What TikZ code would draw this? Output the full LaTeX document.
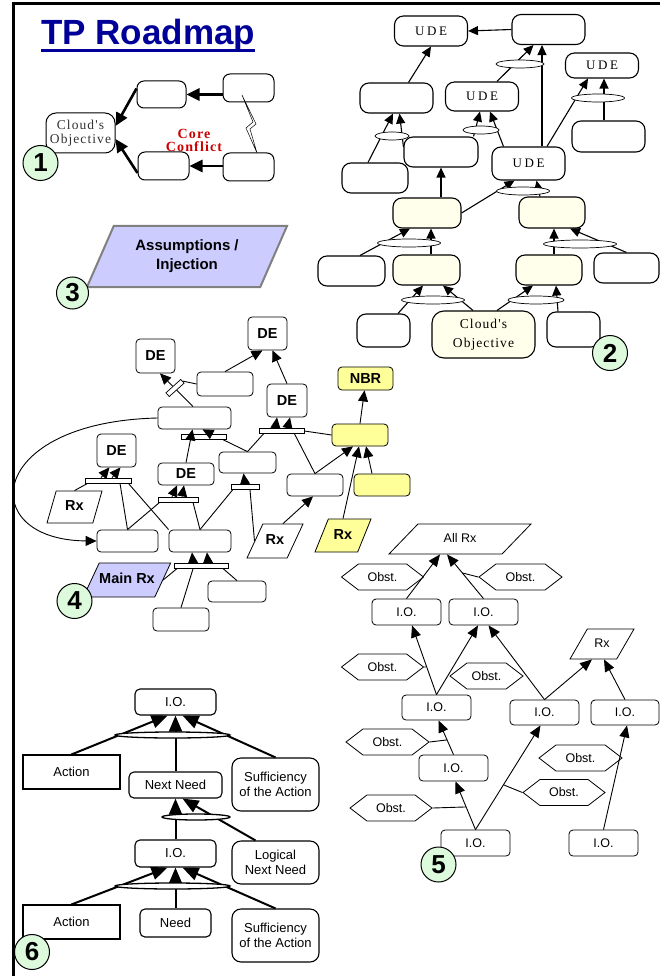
\documentclass[tikz,border=0pt]{standalone}
\usepackage{fontspec}
\setmainfont{Liberation Sans}
\newfontfamily\serifsp{Liberation Serif}[LetterSpace=8]
\newfontfamily\udefont{Liberation Serif}[LetterSpace=20]
\usetikzlibrary{arrows.meta, shapes.geometric, shapes.symbols}
\definecolor{navytitle}{HTML}{000099}
\definecolor{numgreen}{HTML}{DDFADD}
\definecolor{cream}{HTML}{FFFFEB}
\definecolor{rxyellow}{HTML}{FFFF99}
\definecolor{lavender}{HTML}{CCCCFF}
\definecolor{conflict}{HTML}{CC0000}
\newcommand{\fsz}[2]{\fontsize{#1}{#2}\selectfont}

\begin{document}
\begin{tikzpicture}[x=1pt, y=-1pt,
  numcirc/.style={circle, draw, line width=1pt, fill=numgreen, minimum size=35pt, inner sep=0pt, font=\bfseries\fsz{26}{26}},
  cbox/.style={draw, rounded corners=7pt, fill=white, line width=1pt, minimum width=51pt, minimum height=28pt, inner sep=0pt, align=center},
  arrA/.style={line width=2.6pt, -{Triangle[length=13pt, width=12pt]}},
  ubox/.style={draw, rounded corners=9pt, fill=white, line width=1.1pt, minimum width=73pt, minimum height=30pt, inner sep=0pt, align=center, font=\udefont\fsz{13}{19}},
  andell/.style={ellipse, draw, fill=white, line width=0.7pt, minimum height=8pt, inner sep=0pt},
  arrB/.style={line width=1.1pt, -{Triangle[length=10pt, width=9pt]}},
  dbox/.style={draw, rounded corners=4pt, fill=white, line width=0.8pt, minimum width=56pt, minimum height=22pt, inner sep=0pt, font=\bfseries\fsz{14.5}{16}},
  para/.style={trapezium, trapezium stretches body, draw, fill=white, line width=0.8pt, inner xsep=0pt, font=\bfseries\fsz{14.5}{16}},
  onel/.style={text height=10pt, text depth=3pt, inner ysep=#1},
  andbar/.style={draw, fill=white, line width=0.7pt, minimum height=5pt, inner sep=0pt},
  lnD/.style={line width=0.9pt},
  arrD/.style={line width=0.9pt, -{Triangle[length=11pt, width=10pt]}},
  iobox/.style={draw, rounded corners=4pt, fill=white, line width=0.8pt, minimum width=69pt, minimum height=26pt, inner sep=0pt, font=\fsz{12.5}{14}},
  obst/.style={signal, signal to=east and west, signal pointer angle=75, draw, fill=white, line width=0.8pt, minimum width=82pt, minimum height=26pt, inner sep=0pt, font=\fsz{12.5}{14}},
  lnE/.style={line width=0.9pt},
  arrE/.style={line width=0.9pt, -{Triangle[length=12pt, width=10pt]}},
  nbox/.style={draw, rounded corners=5pt, fill=white, line width=1.1pt, inner sep=0pt, align=center, font=\fsz{13}{15}},
  andflat/.style={ellipse, draw, fill=white, line width=1.3pt, minimum height=6pt, inner sep=0pt},
  arrF/.style={line width=2pt, -{Triangle[length=16pt, width=13pt]}}]

\useasboundingbox (0,0) rectangle (660,976); % Khung trang

% Khung và tiêu đề
\draw[line width=3.5pt] (13.5,976) -- (13.5,3.5) -- (660,3.5);
\node[anchor=base west, text=navytitle, font=\bfseries\fsz{35}{40}, inner sep=0pt] (title) at (41,45) {TP Roadmap};
\draw[navytitle, line width=3pt] ([yshift=-5.5pt]title.base west) -- ([yshift=-5.5pt]title.base east);

% (1) Đám mây
\node[cbox, minimum width=69pt, minimum height=40pt, rounded corners=10pt, font=\serifsp\fsz{13.5}{14}, text=black!80] (obj1) at (80.5,133) {Cloud's\\Objective};
\node[cbox, minimum width=49pt, minimum height=27pt] (c1b) at (161.5,94.5) {};
\node[cbox] (c1c) at (163.5,166) {};
\node[cbox] (c1d) at (248.5,88) {};
\node[cbox] (c1e) at (248.5,167) {};
\node[text=conflict, font=\serifsp\bfseries\fsz{14}{13}, align=center] (core) at (194,140) {Core\\Conflict};
\draw[line width=0.5pt, fill=white] (242,95) -- (253,122) -- (246,128) -- (257,153) -- (250,129) -- (256,124) -- cycle; % Tia chớp
\draw[arrA] (c1d.west |- c1b.east) -- (c1b.east);
\draw[arrA] (c1e.west |- c1c.east) -- (c1c.east);
\draw[arrA] ([yshift=6pt]c1b.west) -- ([yshift=7pt]obj1.east);
\draw[arrA] ([yshift=-7pt]c1c.west) -- ([yshift=-6pt]obj1.east);
\node[numcirc] (n1) at (40.5,163) {1};

% (2) Cây hiện trạng
\node[ubox] (ude1) at (431,31) {UDE};
\node[ubox] (s2f) at (548.5,29.5) {};
\node[ubox, minimum height=25pt] (ude2) at (602,65.5) {UDE};
\node[ubox] (s2g) at (396.5,98) {};
\node[ubox, minimum height=29pt] (ude3) at (482,96.5) {UDE};
\node[ubox, minimum width=74pt] (s2h) at (441,152) {};
\node[ubox, minimum height=31pt] (s2i) at (608.5,136.5) {};
\node[ubox, minimum height=33pt] (ude4) at (528.5,163.5) {UDE};
\node[ubox, minimum width=66pt] (s2j) at (375,178) {};
\node[ubox, fill=cream, minimum width=68pt] (s2l1) at (427,213) {};
\node[ubox, fill=cream, minimum width=66pt, minimum height=31pt] (s2l2) at (552,212.5) {};
\node[ubox, fill=cream, minimum width=67pt] (s2m1) at (426.5,270) {};
\node[ubox, fill=cream, minimum width=66pt] (s2m2) at (549,270) {};
\node[ubox, minimum width=67pt] (s2n1) at (351.5,271) {};
\node[ubox, minimum width=65pt] (s2n2) at (626.5,268) {};
\node[ubox, fill=cream, minimum width=103pt, minimum height=47pt, rounded corners=12pt, font=\serifsp\fsz{13.5}{19}] (obj2) at (483.5,334.5) {Cloud's\\Objective};
\node[ubox, minimum width=53pt, minimum height=33pt] (s2p1) at (383.5,330.5) {};
\node[ubox, minimum width=53pt, minimum height=35pt] (s2p2) at (573.5,329.5) {};
\node[numcirc] (n2) at (610,353) {2};
\draw[arrB] (s2f.west) -- (ude1.east);
\draw[arrB] ([xshift=12pt]s2g.north) -- (ude1.south);
\draw[arrB] ([xshift=15pt]ude3.north) -- ([xshift=-15pt]s2f.south);
\draw[arrB] ([xshift=13.5pt]ude4.north) -- ([xshift=-6.5pt]s2f.south);
\draw[arrB] ([xshift=-7pt]s2j.north) -- ([xshift=-3.5pt]s2g.south);
\draw[arrB] ([yshift=5pt]s2h.west) -- ([xshift=3pt]s2g.south);
\draw[arrB] (s2h.south |- s2l1.north) -- (s2h.south);
\draw[arrB] ([xshift=-5pt]s2h.north east) -- ([xshift=-2pt]ude3.south);
\draw[arrB] ([xshift=-25pt]ude4.north) -- ([xshift=8pt]ude3.south);
\draw[arrB] ([xshift=18.5pt]ude4.north) -- ([xshift=-14pt]ude2.south);
\draw[arrB] ([xshift=-4.5pt]s2i.north) -- ([xshift=2pt]ude2.south);
\draw[arrB] (s2l1.east) -- ([xshift=-14pt]ude4.south);
\draw[arrB] ([xshift=-12pt]s2l2.north) -- ([xshift=8pt]ude4.south);
\draw[arrB] ([xshift=8.5pt]s2n1.north) -- ([xshift=-17pt]s2l1.south);
\draw[arrB] ([xshift=4.5pt]s2m1.north) -- ([xshift=4pt]s2l1.south);
\draw[arrB] ([xshift=5pt]s2m2.north) -- ([xshift=2pt]s2l2.south);
\draw[arrB] (s2n2.north) -- ([xshift=18pt]s2l2.south);
\draw[arrB] ([xshift=14.5pt]s2p1.north) -- ([xshift=-3.5pt]s2m1.south);
\draw[arrB] ([xshift=-10.5pt]obj2.north) -- ([xshift=16.5pt]s2m1.south);
\draw[arrB] ([xshift=13.5pt]obj2.north) -- ([xshift=-16pt]s2m2.south);
\draw[arrB] ([xshift=-15.5pt]s2p2.north) -- ([xshift=7pt]s2m2.south);
\node[andell, minimum width=48pt] (and1) at (520,64) {};
\node[andell, minimum width=34pt] (and2) at (392,136) {};
\node[andell, minimum width=36pt] (and3) at (481,130) {};
\node[andell, minimum width=53pt] (and4) at (598,98) {};
\node[andell, minimum width=53pt] (and5) at (523,191) {};
\node[andell, minimum width=63pt] (and6) at (409,243) {};
\node[andell, minimum width=73pt] (and7) at (580,244) {};
\node[andell, minimum width=63pt] (and8) at (433,300) {};
\node[andell, minimum width=56pt] (and9) at (536,300) {};

% (3) Giả định
\node[para, trapezium left angle=56, trapezium right angle=124, minimum width=200pt, minimum height=61pt, fill=lavender, draw=gray, line width=2pt, font=\bfseries\fsz{15}{19}, align=center] (asm) at (187,256.5) {Assumptions /\\Injection};
\node[numcirc, minimum size=32pt] (n3) at (72.5,293) {3};

% (4) Cây thực tại tương lai
\node[dbox, minimum width=39pt, minimum height=33pt] (dea) at (267.5,333.5) {DE};
\node[dbox, minimum width=39pt, minimum height=34pt] (deb) at (155.5,356) {DE};
\node[dbox, minimum height=24pt] (s4q) at (225,384) {};
\node[dbox, minimum width=40pt, minimum height=33pt] (dec) at (287,400.5) {DE};
\node[dbox, fill=rxyellow, minimum width=55pt, minimum height=23pt] (nbr) at (365.5,378.5) {NBR};
\node[dbox, minimum width=73pt] (s4r) at (194.5,418) {};
\node[dbox, fill=rxyellow] (s4s) at (360,435) {};
\node[dbox, minimum width=39pt, minimum height=33pt] (ded) at (116.5,450.5) {DE};
\node[dbox] (dee) at (186,474) {DE};
\node[dbox, minimum width=57pt, minimum height=21pt] (s4t) at (247.5,462.5) {};
\node[dbox] (s4u) at (315,485) {};
\node[dbox, fill=rxyellow] (s4v) at (382,485) {};
\node[para, onel=9.5pt, trapezium left angle=74, trapezium right angle=106, minimum width=55pt] (rxa) at (74.5,507) {Rx};
\node[dbox, minimum width=61pt] (s4w) at (127.5,541) {};
\node[dbox, minimum width=62pt] (s4x) at (200,541) {};
\node[para, onel=10.5pt, trapezium left angle=65, trapezium right angle=115, minimum width=56pt] (rxb) at (275,541) {Rx};
\node[para, onel=10pt, fill=rxyellow, trapezium left angle=68, trapezium right angle=112, minimum width=56pt] (rxc) at (343,535.5) {Rx};
\node[para, onel=10.5pt, fill=lavender, trapezium left angle=65, trapezium right angle=115, minimum width=84pt] (mainrx) at (127,580) {Main Rx};
\node[numcirc] (n4) at (74.5,601) {4};
\node[dbox, minimum width=58pt, minimum height=21pt] (s4y) at (237,591.5) {};
\node[dbox, minimum height=23pt] (s4z) at (181,619.5) {};
\node[andbar, minimum width=46pt] (bar1) at (108,480.5) {};
\node[andbar, minimum width=40pt] (bar2) at (178,499.5) {};
\node[andbar, minimum width=45pt] (bar3) at (203.5,437) {};
\node[andbar, minimum width=45pt] (bar4) at (281.5,431) {};
\node[andbar, minimum width=28pt] (bar5) at (245,487) {};
\node[andbar, minimum width=54pt] (bar6) at (201,566) {};
\draw[arrD] (s4q.north) -- ([xshift=-5pt]dea.south);
\draw[arrD] (dec.north) -- ([xshift=5pt]dea.south);
\draw[arrD] ([xshift=-1.5pt]s4r.north) -- ([xshift=4.5pt]deb.south);
\node[andbar, minimum width=20pt, rotate=42] (bar7) at (175,388) {};
\draw[lnD] (s4q.west) -- (bar7.east);
\draw[arrD] (s4r.west) .. controls (-15,422) and (-25,540) .. (s4w.west); % Đường cong vòng
\draw[lnD] (rxa.north) -- ([xshift=3pt]bar1.south west);
\draw[lnD] (s4w.north) -- ([xshift=12pt]bar1.south);
\draw[lnD] (s4x.north west) -- ([xshift=-3pt]bar1.south east);
\draw[arrD] ([xshift=-7pt]bar1.north) -- ([xshift=-7pt]ded.south);
\draw[arrD] ([xshift=4pt]bar1.north) -- ([xshift=4pt]ded.south);
\draw[lnD] (s4w.north) -- ([xshift=2pt]bar2.south west);
\draw[lnD] (s4x.north) -- ([xshift=15pt]bar2.south);
\draw[arrD] ([xshift=-6pt]bar2.north) -- ([xshift=-9pt]dee.south);
\draw[arrD] ([xshift=4pt]bar2.north) -- ([xshift=-2pt]dee.south);
\draw[arrD] (dee.north) -- ([xshift=-2pt]s4r.south);
\draw[lnD] (s4t.north) -- ([xshift=-3pt]bar3.south east);
\draw[arrD] ([xshift=8pt]bar3.north) -- ([xshift=8pt]s4r.south);
\draw[lnD] (s4x.north) -- ([xshift=2pt]bar5.south west);
\draw[lnD] (rxb.west) -- ([xshift=5pt]bar5.south);
\draw[arrD] (bar5.north) -- ([xshift=-4pt]s4t.south);
\draw[lnD] (s4t.north) -- ([xshift=-18pt]bar4.south);
\draw[lnD] (s4u.north) -- ([xshift=13pt]bar4.south);
\draw[lnD] (s4s.west) -- (bar4.east);
\draw[arrD] ([xshift=-6pt]bar4.north) -- ([xshift=-10pt]dec.south);
\draw[arrD] ([xshift=6pt]bar4.north) -- ([xshift=3pt]dec.south);
\draw[arrD] (s4s.north) -- ([xshift=-1pt]nbr.south);
\draw[arrD] ([xshift=8pt]rxb.north) -- ([xshift=-2pt]s4u.south);
\draw[arrD] (s4u.north) -- ([xshift=-7pt]s4s.south);
\draw[arrD] ([xshift=-10pt]s4v.north) -- ([xshift=6pt]s4s.south);
\draw[arrD] (rxc.north) -- ([xshift=-1pt]s4s.south);
\draw[lnD] (mainrx.east) -- ([xshift=3pt]bar6.south west);
\draw[lnD] (s4z.north) -- ([xshift=-8pt]bar6.south);
\draw[lnD] (s4y.north) -- ([xshift=-5pt]bar6.south east);
\draw[arrD] ([xshift=-8pt]bar6.north) -- ([xshift=-8pt]s4x.south);
\draw[arrD] ([xshift=7pt]bar6.north) -- ([xshift=7pt]s4x.south);

% (5) Cây điều kiện tiên quyết
\node[para, onel=8.5pt, trapezium left angle=46, trapezium right angle=134, minimum width=142pt, font=\fsz{12.5}{14}] (allrx) at (460,539) {All Rx};
\node[obst] (obsta) at (382.5,577) {Obst.};
\node[obst, minimum width=83pt] (obstb) at (520.5,577) {Obst.};
\node[iobox] (io5a) at (406.5,612) {I.O.};
\node[iobox] (io5b) at (483.5,612) {I.O.};
\node[obst] (obstc) at (382.5,667) {Obst.};
\node[obst, minimum width=73pt] (obstd) at (486.5,676) {Obst.};
\node[para, onel=8.5pt, trapezium left angle=60, trapezium right angle=120, minimum width=64pt, font=\fsz{12.5}{14}] (rx5) at (602,644) {Rx};
\node[iobox, minimum height=25pt] (io5c) at (436.5,707.5) {I.O.};
\node[iobox, minimum height=25pt] (io5d) at (544.5,712.5) {I.O.};
\node[iobox, minimum width=68pt, minimum height=25pt] (io5e) at (625,712.5) {I.O.};
\node[obst, minimum width=83pt] (obste) at (387.5,742) {Obst.};
\node[iobox] (io5f) at (453.5,768) {I.O.};
\node[obst, minimum width=83pt] (obstf) at (580.5,758) {Obst.};
\node[obst] (obstg) at (564,792.5) {Obst.};
\node[obst] (obsth) at (391,808) {Obst.};
\node[iobox] (io5g) at (475.5,843) {I.O.};
\node[iobox] (io5h) at (603.5,843) {I.O.};
\draw[arrE] (io5a.north) -- ([xshift=-20pt]allrx.south);
\draw[arrE] (io5b.north) -- coordinate[pos=0.58] (kb) ([xshift=-13pt]allrx.south);
\draw[lnE] (obstb.west) -- (kb);
\draw[arrE] (io5c.north) -- coordinate[pos=0.4] (kc) ([xshift=5.5pt]io5a.south);
\draw[lnE] (obstc.east) -- (kc);
\draw[arrE] (io5c.north) -- ([xshift=-5.5pt]io5b.south);
\draw[arrE] (io5d.north) -- ([xshift=5pt]io5b.south);
\draw[arrE] (io5d.north) -- ([xshift=-10pt]rx5.south);
\draw[arrE] (io5e.north) -- ([xshift=2pt]rx5.south);
\draw[arrE] (io5f.north) -- coordinate[pos=0.43] (ke) ([xshift=2pt]io5c.south);
\draw[lnE] (obste.east) -- (ke);
\draw[arrE] (io5g.north) -- coordinate[pos=0.47] (kh) ([xshift=2pt]io5f.south);
\draw[lnE] (obsth.east) -- (kh);
\draw[arrE] (io5g.north) -- coordinate[pos=0.43] (kg) ([xshift=-4pt]io5d.south);
\draw[lnE] (obstg.west) -- (kg);
\draw[arrE] (io5h.north) -- ([xshift=2pt]io5e.south);
\node[numcirc] (n5) at (438.5,864.5) {5};

% (6) Cây chuyển đổi
\node[nbox, minimum width=81pt, minimum height=26pt] (io6a) at (175.5,702) {I.O.};
\node[nbox, sharp corners, minimum width=97pt, minimum height=34pt] (act1) at (71.5,772) {Action};
\node[nbox, minimum width=93pt, minimum height=26pt] (nn) at (175.5,785) {Next Need};
\node[nbox, rounded corners=9pt, minimum width=87pt, minimum height=53pt] (suf1) at (275.5,784.5) {Sufficiency\\of the Action};
\node[nbox, minimum width=81pt, minimum height=27pt] (io6b) at (175.5,853.5) {I.O.};
\node[nbox, rounded corners=9pt, minimum width=87pt, minimum height=43pt] (lnn) at (275.5,862.5) {Logical\\Next Need};
\node[nbox, sharp corners, minimum width=97pt, minimum height=34pt] (act2) at (71.5,922) {Action};
\node[nbox, minimum width=71pt, minimum height=28pt] (need) at (175.5,923) {Need};
\node[nbox, rounded corners=9pt, minimum width=87pt, minimum height=53pt] (suf2) at (275.5,935.5) {Sufficiency\\of the Action};
\draw[arrF] (act1.north) -- ([xshift=-8pt]io6a.south);
\draw[arrF] (nn.north) -- (io6a.south);
\draw[arrF] (suf1.north) -- ([xshift=7pt]io6a.south);
\draw[arrF] (io6b.north) -- (nn.south);
\draw[arrF] ([xshift=-20pt]lnn.north) -- ([xshift=7pt]nn.south);
\draw[arrF] (act2.north) -- ([xshift=-8pt]io6b.south);
\draw[arrF] (need.north) -- (io6b.south);
\draw[arrF] (suf2.north) -- ([xshift=7pt]io6b.south);
\node[andflat, minimum width=115pt] (and6a) at (172.5,735) {};
\node[andflat, minimum width=68pt] (and6b) at (196,817) {};
\node[andflat, minimum width=115pt] (and6c) at (172.5,886) {};
\node[numcirc] (n6) at (32,952) {6};

\end{tikzpicture}
\end{document}
